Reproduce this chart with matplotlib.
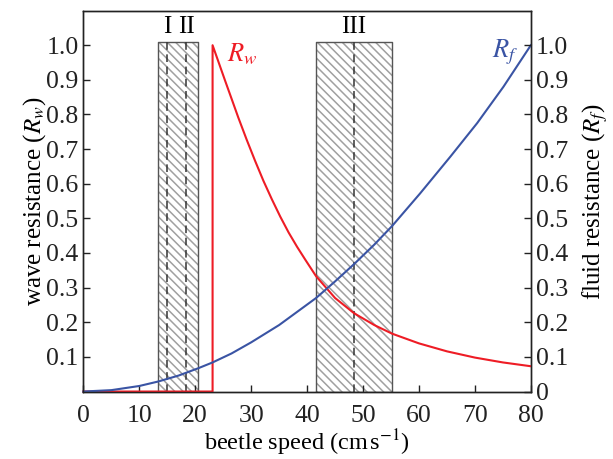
import matplotlib
matplotlib.use('Agg')
import matplotlib.pyplot as plt

plt.rcParams['font.family'] = ['Liberation Serif', 'DejaVu Serif']
plt.rcParams['mathtext.fontset'] = 'stix'
plt.rcParams['hatch.linewidth'] = 1.1

# wave resistance vs beetle speed (zero below the threshold speed)
speed_w = [0, 23.1, 23.1, 24.15, 25.35, 26.55, 27.7, 29.2, 30.7, 32.2, 33.7, 35.2,
           36.7, 38.2, 39.7, 41.6, 45, 48.4, 52, 55.2, 60, 65, 70, 75, 80]
r_wave = [0, 0, 1.0, 0.952, 0.897, 0.843, 0.791, 0.727, 0.666, 0.608, 0.555, 0.505,
          0.459, 0.418, 0.38, 0.333, 0.27, 0.226, 0.192, 0.167, 0.139, 0.116, 0.098,
          0.084, 0.073]

# fluid resistance vs beetle speed
speed_f = [0, 5, 10, 13.4, 17, 20.5, 23.1, 26.5, 30, 35, 41.6, 45, 48.4, 52, 55.2,
           60.2, 65.6, 70.4, 75.1, 80]
r_fluid = [0, 0.004, 0.016, 0.029, 0.046, 0.067, 0.084, 0.11, 0.142, 0.192, 0.27,
           0.318, 0.368, 0.424, 0.478, 0.572, 0.678, 0.775, 0.88, 1.0]

# speed ranges (left, right) and the dashed means inside them
ranges = [(13.4, 20.5), (41.6, 55.2)]
means = [15.0, 18.4, 48.4]
range_names = ['I', 'II', 'III']

fig = plt.figure(figsize=(6.13, 4.59), dpi=100)
ax = fig.add_axes([0.136, 0.147, 0.73, 0.83])
ax2 = ax.twinx()

box_top = 1.008
for lo, hi in ranges:
    ax.fill_between([lo, hi], 0, box_top, facecolor='white', edgecolor='#a0a0a0',
                    hatch='\\\\\\\\', linewidth=0, zorder=1)
    ax.plot([lo, lo, hi, hi, lo], [0, box_top, box_top, 0, 0], color='#555555',
            lw=1.0, zorder=2)
for m in means:
    ax.plot([m, m], [0, box_top], color='#333333', lw=1.1, ls=(0, (5, 3)), zorder=2)
for m, name in zip(means, range_names):
    ax.text(m, 1.022, name, ha='center', va='bottom', fontsize=18)

ax.plot(speed_w, r_wave, color='#ee1c25', lw=1.5, zorder=3, clip_on=False)
ax.plot(speed_f, r_fluid, color='#3a54a4', lw=1.5, zorder=3, clip_on=False)

ax.text(25.6, 0.975, '$R_w$', color='#ee1c25', fontsize=19, va='center')
ax.text(77.8, 0.98, '$R_f$', color='#3a54a4', fontsize=19, va='center', ha='right')

ax.set_xlim(0, 80)
ax.set_ylim(0, 1.1)
ax2.set_ylim(0, 1.1)
ax.set_xticks(range(0, 90, 10))
ax.set_yticks([0.1, 0.2, 0.3, 0.4, 0.5, 0.6, 0.7, 0.8, 0.9, 1.0])
ax.set_yticklabels(['0.1', '0.2', '0.3', '0.4', '0.5', '0.6', '0.7', '0.8', '0.9', '1.0'])
ax2.set_yticks([0, 0.1, 0.2, 0.3, 0.4, 0.5, 0.6, 0.7, 0.8, 0.9, 1.0])
ax2.set_yticklabels(['0', '0.1', '0.2', '0.3', '0.4', '0.5', '0.6', '0.7', '0.8', '0.9', '1.0'])

for a in (ax, ax2):
    a.tick_params(direction='in', length=5, width=1, labelsize=18.5, colors='#222222')
    for s in a.spines.values():
        s.set_linewidth(1.0)
        s.set_color('#222222')
ax.tick_params(axis='x', pad=10)

ax.set_xlabel('beetle speed (cm$\\,$s$^{-1}$)', fontsize=17.5, labelpad=0)
ax.set_ylabel('wave resistance ($R_w$)', fontsize=18, labelpad=-1)
ax2.set_ylabel('fluid resistance ($R_f$)', fontsize=18, labelpad=9)

fig.savefig('out.png', dpi=100)
